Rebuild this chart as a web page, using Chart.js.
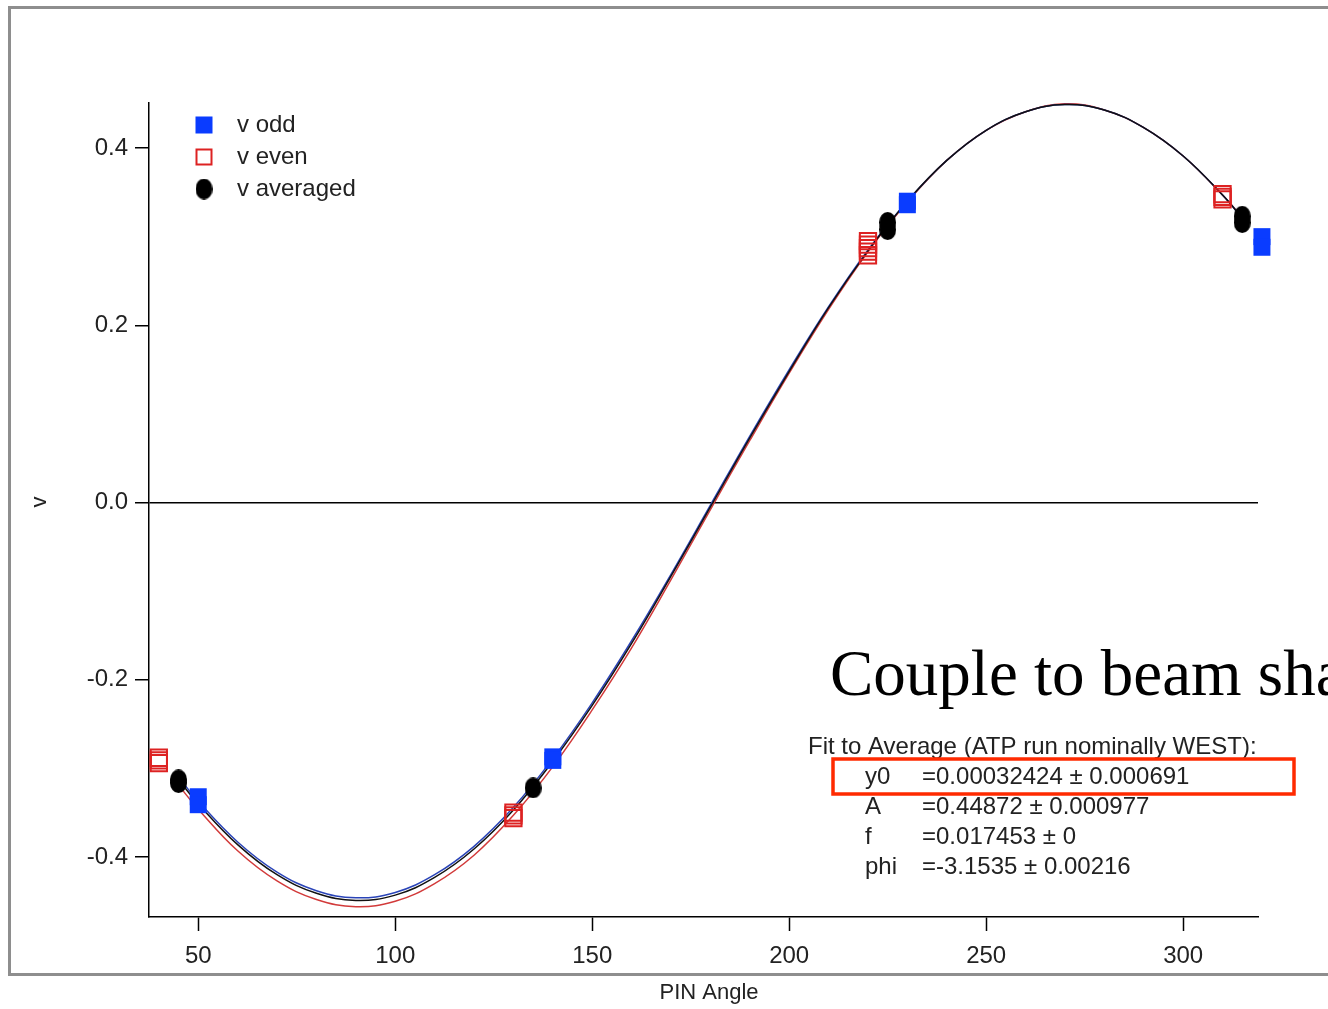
<!DOCTYPE html>
<html>
<head>
<meta charset="utf-8">
<title>PIN Angle fit</title>
<script src="https://cdn.jsdelivr.net/npm/chart.js@4/dist/chart.umd.min.js"></script>
<style>
  html, body { margin: 0; padding: 0; background: #fff; }
  #plot { display: block; }
</style>
</head>
<body>
<canvas id="plot" width="1328" height="1009"></canvas>
<script>
// measured points (x = PIN angle, y = v); not sorted by x so every point gets drawn
const oddX = [320, 320, 50, 50, 140, 140, 230, 230];
const oddY = [0.300, 0.288, -0.332, -0.341, -0.287, -0.291, 0.340, 0.336];

const evenX = [310, 310, 310, 40, 40, 40, 130, 130, 130, 220, 220, 220, 220, 220];
const evenY = [0.348, 0.345, 0.342, -0.288, -0.291, -0.294, -0.350, -0.353, -0.356, 0.295, 0.291, 0.287, 0.283, 0.279];

const avgX = [315, 315, 45, 45, 135, 225, 225];
const avgY = [0.323, 0.316, -0.313, -0.316, -0.322, 0.316, 0.308];

// fitted curves, sampled along the angle
const fitX = [45, 50, 60, 70, 80, 90, 100, 110, 120, 130, 140, 150, 160, 170, 180,
  190, 200, 210, 220, 230, 240, 250, 260, 270, 280, 290, 300, 310, 315];
const fitAvg = [-0.313, -0.340, -0.386, -0.420, -0.441, -0.449, -0.443, -0.423, -0.391, -0.347,
  -0.292, -0.229, -0.159, -0.083, -0.005, 0.073, 0.148, 0.220, 0.284, 0.340,
  0.386, 0.420, 0.441, 0.449, 0.443, 0.423, 0.391, 0.347, 0.321];
const fitEven = [-0.319, -0.346, -0.393, -0.427, -0.448, -0.456, -0.450, -0.430, -0.398, -0.353,
  -0.298, -0.234, -0.164, -0.087, -0.008, 0.070, 0.146, 0.218, 0.283, 0.339,
  0.386, 0.420, 0.441, 0.450, 0.443, 0.423, 0.391, 0.347, 0.322];
const fitOdd = [-0.310, -0.337, -0.383, -0.417, -0.438, -0.446, -0.440, -0.420, -0.388, -0.344,
  -0.289, -0.226, -0.156, -0.081, -0.003, 0.075, 0.150, 0.221, 0.285, 0.340,
  0.386, 0.420, 0.441, 0.449, 0.443, 0.423, 0.391, 0.347, 0.321];

const xTicks = [50, 100, 150, 200, 250, 300];
const yTicks = [-0.4, -0.2, 0.0, 0.2, 0.4];

const fitTitle = "Fit to Average (ATP run nominally WEST):";
const fitNames = ["y0", "A", "f", "phi"];
const fitValues = ["=0.00032424 \u00b1 0.000691", "=0.44872 \u00b1 0.000977", "=0.017453 \u00b1 0", "=-3.1535 \u00b1 0.00216"];

const BLUE = "#0a3cff";
const RED = "#dd2222";
const LINE_BLUE = "#2a44b8";
const LINE_RED = "#d23a3a";
const FONT = "'Liberation Sans', Arial, sans-serif";

function pts(xs, ys) {
  return xs.map((x, i) => ({ x: x, y: ys[i] }));
}

// slightly tall black dot used for the averaged series
function makeDot(w, h) {
  const c = document.createElement("canvas");
  c.width = w;
  c.height = h;
  const g = c.getContext("2d");
  g.fillStyle = "#000";
  g.beginPath();
  g.ellipse(w / 2, h / 2, w / 2, h / 2, 0, 0, Math.PI * 2);
  g.fill();
  return c;
}
const dot = makeDot(17, 21);

// frame, legend and fit text
const decorations = {
  id: "decorations",
  beforeDraw(chart) {
    const ctx = chart.ctx;
    ctx.save();
    ctx.fillStyle = "#fff";
    ctx.fillRect(0, 0, chart.width, chart.height);
    ctx.strokeStyle = "#8e8e8e";
    ctx.lineWidth = 3;
    ctx.beginPath();
    ctx.moveTo(9.5, 975);
    ctx.lineTo(9.5, 7.5);
    ctx.lineTo(1400, 7.5);
    ctx.stroke();
    ctx.beginPath();
    ctx.moveTo(8, 974.5);
    ctx.lineTo(1400, 974.5);
    ctx.stroke();
    ctx.restore();
  },
  afterDraw(chart) {
    const ctx = chart.ctx;
    ctx.save();

    // legend
    const lx = 204;
    ctx.fillStyle = BLUE;
    ctx.fillRect(lx - 8.5, 116.5, 17, 17);
    ctx.strokeStyle = RED;
    ctx.lineWidth = 2;
    ctx.strokeRect(lx - 7.5, 149.5, 15, 15);
    ctx.drawImage(dot, lx - 8.5, 189 - 10.5);

    ctx.fillStyle = "#222";
    ctx.font = "24px " + FONT;
    ctx.textBaseline = "middle";
    ctx.textAlign = "left";
    ctx.fillText("v odd", 237, 125);
    ctx.fillText("v even", 237, 157);
    ctx.fillText("v averaged", 237, 189);

    // axis titles
    ctx.font = "22px " + FONT;
    ctx.textAlign = "center";
    ctx.fillText("PIN Angle", 709, 993);
    ctx.save();
    ctx.translate(40, 502);
    ctx.rotate(-Math.PI / 2);
    ctx.fillText("v", 0, 0);
    ctx.restore();

    // heading over the fit results
    ctx.fillStyle = "#000";
    ctx.font = "65px 'Liberation Serif', 'Times New Roman', serif";
    ctx.textAlign = "left";
    ctx.textBaseline = "alphabetic";
    ctx.fillText("Couple to beam shape", 830, 695);

    // fit results
    ctx.fillStyle = "#222";
    ctx.font = "24px " + FONT;
    ctx.textBaseline = "middle";
    ctx.fillText(fitTitle, 808, 747);
    fitNames.forEach((name, i) => {
      const y = 777 + i * 30;
      ctx.fillText(name, 865, y);
      ctx.fillText(fitValues[i], 922, y);
    });

    ctx.strokeStyle = "#ff2a00";
    ctx.lineWidth = 3.5;
    ctx.strokeRect(833, 759, 461, 35);
    ctx.restore();
  }
};

const plotCtx = document.getElementById("plot");
new Chart(plotCtx.getContext("2d"), {
  type: "scatter",
  data: {
    datasets: [
      {
        label: "fit even",
        type: "line",
        data: pts(fitX, fitEven),
        borderColor: LINE_RED,
        borderWidth: 1.5,
        pointRadius: 0,
        tension: 0.4,
        fill: false,
        order: 6,
      },
      {
        label: "fit odd",
        type: "line",
        data: pts(fitX, fitOdd),
        borderColor: LINE_BLUE,
        borderWidth: 1.5,
        pointRadius: 0,
        tension: 0.4,
        fill: false,
        order: 5,
      },
      {
        label: "fit average",
        type: "line",
        data: pts(fitX, fitAvg),
        borderColor: "#111",
        borderWidth: 1.5,
        pointRadius: 0,
        tension: 0.4,
        fill: false,
        order: 4,
      },
      {
        label: "v even",
        data: pts(evenX, evenY),
        pointStyle: "rect",
        pointRadius: 11.5,
        pointBorderWidth: 2,
        pointBackgroundColor: "rgba(255,255,255,0)",
        pointBorderColor: RED,
        order: 3,
      },
      {
        label: "v odd",
        data: pts(oddX, oddY),
        pointStyle: "rect",
        pointRadius: 12,
        pointBorderWidth: 0,
        pointBackgroundColor: BLUE,
        pointBorderColor: BLUE,
        order: 2,
      },
      {
        label: "v averaged",
        data: pts(avgX, avgY),
        pointStyle: dot,
        pointRadius: 9,
        order: 1,
      },
    ],
  },
  options: {
    responsive: false,
    animation: false,
    clip: false,
    layout: {
      padding: { left: 0, top: 103, right: 70, bottom: 0 },
    },
    plugins: {
      legend: { display: false },
      tooltip: { enabled: false },
    },
    scales: {
      x: {
        type: "linear",
        min: 37.5,
        max: 319,
        afterBuildTicks: (scale) => {
          scale.ticks = xTicks.map((v) => ({ value: v }));
        },
        afterFit: (scale) => {
          scale.height = 92;
        },
        grid: {
          drawOnChartArea: false,
          tickLength: 14,
          tickColor: "#000",
          tickWidth: 1.5,
        },
        border: { display: true, color: "#000", width: 1.5 },
        ticks: {
          color: "#222",
          font: { family: FONT, size: 24 },
          padding: 11,
          maxRotation: 0,
        },
      },
      y: {
        type: "linear",
        min: -0.4677,
        max: 0.4508,
        afterBuildTicks: (scale) => {
          scale.ticks = yTicks.map((v) => ({ value: v }));
        },
        afterFit: (scale) => {
          scale.width = 149;
        },
        grid: {
          drawOnChartArea: true,
          color: (c) => (c.tick && c.tick.value === 0 ? "#000" : "rgba(0,0,0,0)"),
          lineWidth: 1.5,
          tickLength: 14,
          tickColor: "#000",
          tickWidth: 1.5,
        },
        border: { display: true, color: "#000", width: 1.5 },
        ticks: {
          color: "#222",
          font: { family: FONT, size: 24 },
          padding: 7,
          callback: (v) => Number(v).toFixed(1),
        },
      },
    },
  },
  plugins: [decorations],
});
</script>
</body>
</html>
